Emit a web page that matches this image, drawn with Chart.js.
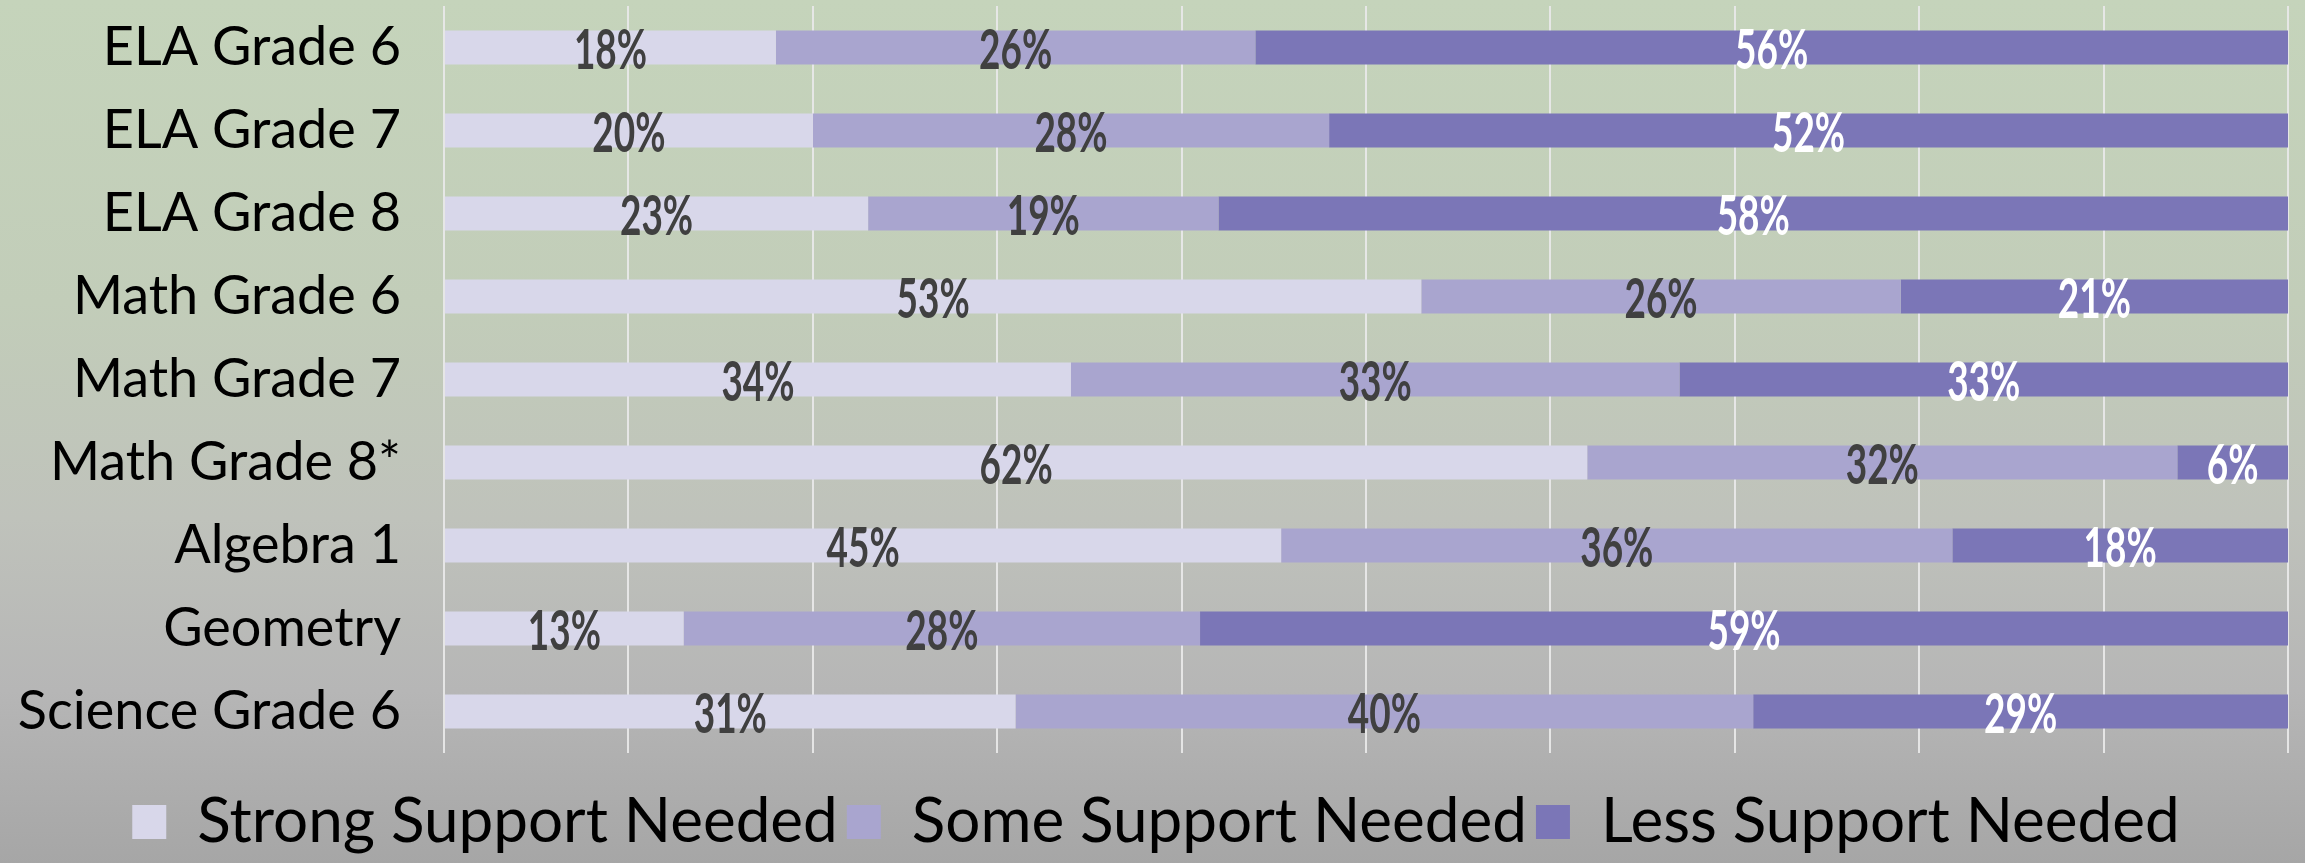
<!DOCTYPE html>
<html>
<head>
<meta charset="utf-8">
<script src="https://cdn.jsdelivr.net/npm/chart.js@4.4.1/dist/chart.umd.min.js"></script>
<style>
  html, body { margin: 0; padding: 0; }
  body {
    width: 2305px; height: 863px; overflow: hidden;
    background: linear-gradient(to bottom, #c5d4bb 0%, #c2cdb9 35%, #bfc2bb 60%, #b6b6b6 80%, #a6a6a6 100%);
  }
  #wrap { width: 2305px; height: 863px; }
</style>
</head>
<body>
<div id="wrap"><canvas id="c" width="2305" height="863"></canvas></div>
<script>
// subjects, top to bottom
var subjects = ['ELA Grade 6', 'ELA Grade 7', 'ELA Grade 8', 'Math Grade 6', 'Math Grade 7',
                'Math Grade 8*', 'Algebra 1', 'Geometry', 'Science Grade 6'];
var seriesNames = ['Strong Support Needed', 'Some Support Needed', 'Less Support Needed'];
var strongSupport = [18, 20, 23, 53, 34, 62, 45.4, 13, 31];
var someSupport   = [26, 28, 19, 26, 33, 32, 36.4, 28, 40];
var lessSupport   = [56, 52, 58, 21, 33, 6, 18.2, 59, 29];
var xTicks = [0, 10, 20, 30, 40, 50, 60, 70, 80, 90, 100];

var fills = ['#d8d7ea', '#a9a5cf', '#7b76b7'];
var labelColors = ['#404040', '#404040', '#ffffff'];

// percent labels centred in each segment, narrow like the original condensed face
var segLabels = {
    id: 'segLabels',
    afterDatasetsDraw: function (chart) {
        var ctx = chart.ctx;
        chart.data.datasets.forEach(function (ds, i) {
            var meta = chart.getDatasetMeta(i);
            meta.data.forEach(function (bar, j) {
                var cx = (bar.x + bar.base) / 2;
                ctx.save();
                ctx.translate(cx, bar.y + 3);
                ctx.scale(0.66, 1);
                ctx.font = 'bold 56px Lato';
                ctx.fillStyle = labelColors[i];
                ctx.textAlign = 'center';
                ctx.textBaseline = 'middle';
                ctx.fillText(Math.round(ds.data[j]) + '%', 0, 0);
                ctx.restore();
            });
        });
    }
};

// legend in the original sits a little right of the canvas centre
var legendNudge = {
    id: 'legendNudge',
    afterLayout: function (chart) {
        if (chart.legend) { chart.legend.left += 12; chart.legend.right += 12; }
    }
};

new Chart(document.getElementById('c'), {
    type: 'bar',
    data: {
        labels: subjects,
        datasets: [
            { label: seriesNames[0], data: strongSupport, backgroundColor: fills[0], borderWidth: 0 },
            { label: seriesNames[1], data: someSupport, backgroundColor: fills[1], borderWidth: 0 },
            { label: seriesNames[2], data: lessSupport, backgroundColor: fills[2], borderWidth: 0 }
        ]
    },
    options: {
        indexAxis: 'y',
        responsive: false,
        devicePixelRatio: 1,
        animation: false,
        layout: { padding: { top: 6, right: 17, left: 0, bottom: 0 } },
        datasets: { bar: { categoryPercentage: 0.8, barPercentage: 0.51 } },
        scales: {
            x: {
                stacked: true, min: 0, max: 100,
                afterBuildTicks: function (ax) { ax.ticks = xTicks.map(function (v) { return { value: v }; }); },
                afterFit: function (ax) { ax.height = 29; },
                ticks: { display: false },
                border: { display: false },
                grid: { color: 'rgba(232,232,232,0.95)', lineWidth: 2, drawTicks: false }
            },
            y: {
                stacked: true,
                afterFit: function (ax) { ax.width = 444; ax.paddingTop = 0; ax.paddingBottom = 0; },
                border: { display: false },
                grid: { display: false },
                ticks: { color: '#000', padding: 35, font: { family: 'Lato', size: 54 } }
            }
        },
        plugins: {
            tooltip: { enabled: false },
            legend: {
                position: 'bottom',
                labels: {
                    color: '#000',
                    font: { family: 'Lato', size: 62 },
                    boxWidth: 34, boxHeight: 34,
                    padding: 9
                }
            }
        }
    },
    plugins: [segLabels, legendNudge]
});
</script>
</body>
</html>
